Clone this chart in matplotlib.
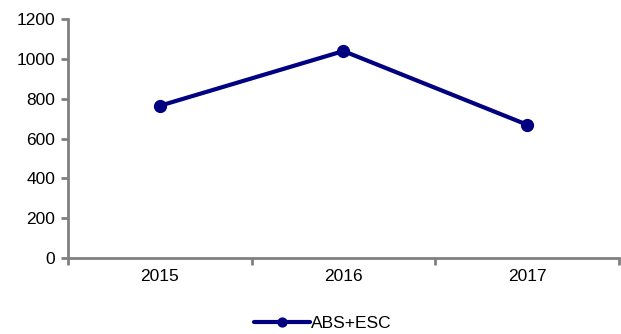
import matplotlib.pyplot as plt
import numpy as np

years = ["2015", "2016", "2017"]
values = [765, 1040, 670]
series_name = "ABS+ESC"

plt.rcParams["font.family"] = ["Liberation Sans", "DejaVu Sans"]

fig = plt.figure(figsize=(6.21, 3.34), dpi=100)
ax = fig.add_axes([0.1095, 0.2275, 0.887, 0.715])

x = np.arange(len(years))
ax.plot(x, values, color="#000080", linewidth=3, marker="o", markersize=8.5,
        label=series_name, solid_capstyle="round")

ax.set_ylim(0, 1200)
ax.set_yticks(range(0, 1201, 200))
ax.set_xlim(-0.5, len(years) - 0.5)
ax.set_xticks(x)
ax.set_xticklabels(years)
ax.set_xticks(np.arange(-0.5, len(years), 1), minor=True)
ax.tick_params(axis="x", which="major", length=0, pad=8)
ax.tick_params(axis="x", which="minor", length=5, width=2, color="#808080", direction="out")
ax.tick_params(axis="y", length=5, width=2, color="#808080", direction="out", pad=4)
ax.tick_params(labelsize=12.5, labelcolor="black")

for side in ("top", "right"):
    ax.spines[side].set_visible(False)
for side in ("left", "bottom"):
    ax.spines[side].set_color("#808080")
    ax.spines[side].set_linewidth(2)

fig.legend(loc="lower center", bbox_to_anchor=(0.52, -0.038), frameon=False,
           fontsize=12.5, handlelength=3.2, handletextpad=0.1, markerscale=0.75)

fig.savefig("out.png", dpi=100)
